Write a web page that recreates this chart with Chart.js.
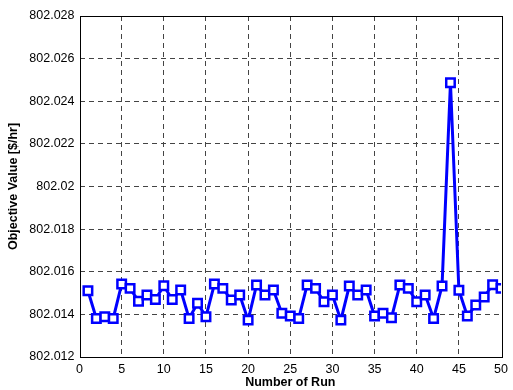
<!DOCTYPE html>
<html>
<head>
<meta charset="utf-8">
<script src="https://cdn.jsdelivr.net/npm/chart.js@4/dist/chart.umd.min.js"></script>
<style>
  html, body { margin: 0; padding: 0; background: #fff; }
  #wrap { width: 513px; height: 390px; }
</style>
</head>
<body>
<div id="wrap"><canvas id="objChart" width="513" height="390"></canvas></div>
<script>
// run number on x, objective value on y
const runs = [1,2,3,4,5,6,7,8,9,10,11,12,13,14,15,16,17,18,19,20,21,22,23,24,25,
              26,27,28,29,30,31,32,33,34,35,36,37,38,39,40,41,42,43,44,45,46,47,48,49,50];
const objValues = [
  802.01511, 802.01381, 802.01389, 802.01381, 802.01542, 802.01522, 802.01462, 802.01491, 802.01470, 802.01534,
  802.01470, 802.01514, 802.01381, 802.01452, 802.01389, 802.01542, 802.01522, 802.01467, 802.01491, 802.01373,
  802.01538, 802.01491, 802.01514, 802.01405, 802.01392, 802.01381, 802.01538, 802.01522, 802.01459, 802.01491,
  802.01373, 802.01533, 802.01491, 802.01514, 802.01392, 802.01405, 802.01384, 802.01538, 802.01522, 802.01459,
  802.01491, 802.01381, 802.01533, 802.02487, 802.01513, 802.01392, 802.01444, 802.01481, 802.01539, 802.01522
];
const xTicks = [0, 5, 10, 15, 20, 25, 30, 35, 40, 45, 50];
const yTicks = [802.012, 802.014, 802.016, 802.018, 802.02, 802.022, 802.024, 802.026, 802.028];

const tickFont = { family: 'Liberation Sans, Arial, sans-serif', size: 12.5 };
const titleFont = { family: 'Liberation Sans, Arial, sans-serif', size: 12.5, weight: 'bold' };

// matlab-style box round the plot area
const boxPlugin = {
    id: 'boxPlugin',
    afterDatasetsDraw(chart) {
        const a = chart.chartArea;
        const ctx = chart.ctx;
        ctx.save();
        ctx.strokeStyle = '#000';
        ctx.lineWidth = 1;
        ctx.strokeRect(Math.round(a.left) + 0.5, Math.round(a.top) + 0.5,
                       Math.round(a.right - a.left), Math.round(a.bottom - a.top));
        ctx.restore();
    }
};

function gridColor(ctx) {
    const n = ctx.scale.ticks.length;
    return (ctx.index === 0 || ctx.index === n - 1) ? 'rgba(0,0,0,0)' : '#444';
}

new Chart(document.getElementById('objChart').getContext('2d'), {
    type: 'line',
    data: {
        datasets: [{
            data: runs.map((r, i) => ({ x: r, y: objValues[i] })),
            borderColor: '#0000ff',
            borderWidth: 3,
            pointStyle: 'rect',
            pointRadius: 6,
            pointBorderWidth: 2.5,
            pointBorderColor: '#0000ff',
            pointBackgroundColor: '#fff',
            tension: 0
        }]
    },
    options: {
        responsive: false,
        animation: false,
        layout: { padding: { left: 0, right: 6, top: 16, bottom: 0 } },
        plugins: {
            legend: { display: false },
            tooltip: { enabled: false }
        },
        scales: {
            x: {
                type: 'linear',
                min: 0, max: 50,
                afterBuildTicks: s => { s.ticks = xTicks.map(v => ({ value: v })); },
                afterFit: s => { s.height = 33; },
                ticks: { font: tickFont, color: '#000', padding: 5, maxRotation: 0 },
                grid: { color: gridColor, drawTicks: false, tickLength: 0 },
                border: { display: false, dash: [5, 4] },
                title: { display: true, text: 'Number of Run', font: titleFont, color: '#000',
                         padding: { top: 0, bottom: 0 } }
            },
            y: {
                min: 802.012, max: 802.028,
                afterBuildTicks: s => { s.ticks = yTicks.map(v => ({ value: v })); },
                afterFit: s => { s.width = 79.5; },
                ticks: {
                    font: tickFont, color: '#000', padding: 5,
                    callback: v => String(parseFloat(Number(v).toFixed(3)))
                },
                grid: { color: gridColor, drawTicks: false, tickLength: 0 },
                border: { display: false, dash: [5, 4] },
                title: { display: true, text: 'Objective Value [$/hr]', font: titleFont, color: '#000',
                         padding: { top: 6, bottom: 0 } }
            }
        }
    },
    plugins: [boxPlugin]
});
</script>
</body>
</html>
